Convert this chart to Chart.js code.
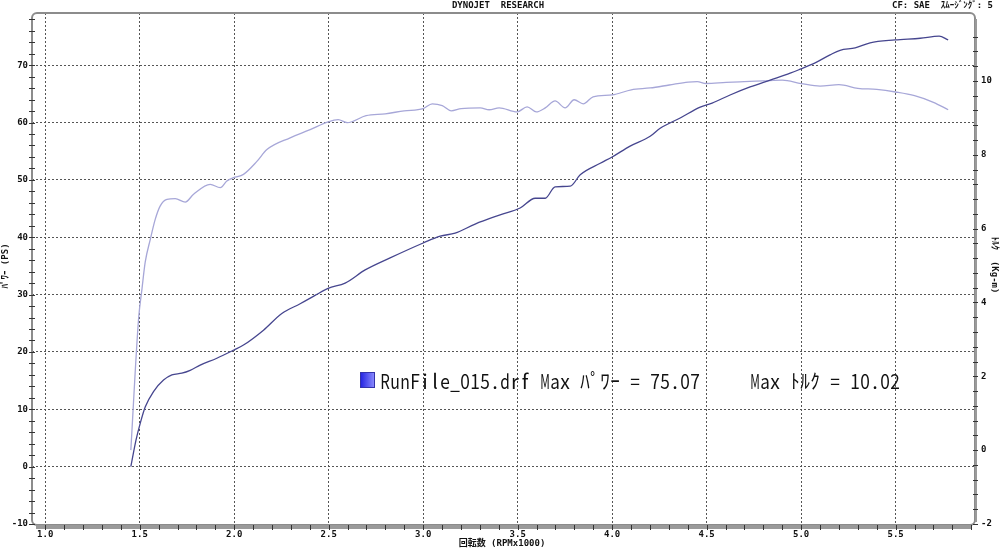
<!DOCTYPE html>
<html>
<head>
<meta charset="utf-8">
<script src="https://cdn.jsdelivr.net/npm/chart.js@4.4.1/dist/chart.umd.min.js"></script>
<style>
  html, body { margin: 0; padding: 0; background: #fff; }
  canvas { display: block; }
</style>
</head>
<body>
<canvas id="dynoChart" width="1000" height="551"></canvas>
<script>
// values
const rpmPower = [1.453, 1.48, 1.503, 1.529, 1.573, 1.626, 1.670, 1.723, 1.767, 1.820, 1.908, 1.996, 2.049, 2.155, 2.252, 2.349, 2.43, 2.497, 2.587, 2.693, 2.825, 3.0, 3.09, 3.169, 3.275, 3.407, 3.513, 3.593, 3.646, 3.698, 3.778, 3.831, 3.937, 4.0, 4.095, 4.201, 4.254, 4.36, 4.466, 4.529, 4.624, 4.73, 4.836, 4.942, 4.995, 5.074, 5.153, 5.206, 5.286, 5.365, 5.497, 5.63, 5.73, 5.778];
const powerPS = [0, 4.6, 7.6, 10.4, 13.1, 15.1, 16.0, 16.3, 16.8, 17.7, 18.9, 20.3, 21.2, 23.8, 26.7, 28.4, 29.9, 31.1, 32.0, 34.3, 36.4, 39.0, 40.2, 40.7, 42.3, 43.9, 45.1, 46.8, 46.8, 48.8, 48.9, 50.9, 52.9, 54.0, 55.9, 57.6, 59.0, 60.8, 62.7, 63.4, 64.8, 66.2, 67.4, 68.6, 69.3, 70.4, 71.8, 72.6, 73.0, 73.9, 74.4, 74.7, 75.07, 74.4];

const rpmTorque = [1.453, 1.494, 1.512, 1.529, 1.556, 1.582, 1.608, 1.644, 1.688, 1.741, 1.785, 1.873, 1.926, 1.961, 1.996, 2.049, 2.12, 2.173, 2.296, 2.402, 2.497, 2.55, 2.598, 2.698, 2.799, 2.899, 3.0, 3.048, 3.101, 3.148, 3.201, 3.302, 3.349, 3.402, 3.497, 3.55, 3.598, 3.646, 3.698, 3.751, 3.799, 3.847, 3.899, 4.0, 4.101, 4.201, 4.302, 4.402, 4.45, 4.497, 4.603, 4.698, 4.8, 4.9, 5.0, 5.1, 5.2, 5.3, 5.4, 5.5, 5.6, 5.7, 5.778];
const torqueKgm = [0, 3.56, 4.37, 5.09, 5.71, 6.25, 6.61, 6.79, 6.81, 6.72, 6.93, 7.20, 7.11, 7.29, 7.38, 7.47, 7.82, 8.14, 8.46, 8.68, 8.89, 8.95, 8.87, 9.06, 9.11, 9.19, 9.25, 9.38, 9.33, 9.19, 9.25, 9.27, 9.22, 9.27, 9.16, 9.30, 9.16, 9.27, 9.46, 9.27, 9.49, 9.38, 9.57, 9.62, 9.76, 9.81, 9.89, 9.97, 9.98, 9.93, 9.96, 9.98, 10.0, 10.02, 9.93, 9.86, 9.90, 9.80, 9.77, 9.70, 9.60, 9.42, 9.22];

const xTicks = [1.0, 1.5, 2.0, 2.5, 3.0, 3.5, 4.0, 4.5, 5.0, 5.5];
const xTickLabels = ['1.0', '1.5', '2.0', '2.5', '3.0', '3.5', '4.0', '4.5', '5.0', '5.5'];
const powerTicks = [-10, 0, 10, 20, 30, 40, 50, 60, 70];
const torqueTicks = [-2, 0, 2, 4, 6, 8, 10];

const legendText = 'RunFile_015.drf Max ﾊﾟﾜｰ = 75.07     Max ﾄﾙｸ = 10.02';

const monoFont = "'DejaVu Sans Mono', 'Noto Sans CJK JP', monospace";

// frame, minor ticks, titles and the run legend
const dynoDecor = {
  id: 'dynoDecor',
  afterDraw(chart) {
    const ctx = chart.ctx;
    const a = chart.chartArea;
    const x = chart.scales.x, y = chart.scales.y, y2 = chart.scales.y2;
    ctx.save();

    // frame with rounded corners
    ctx.strokeStyle = '#8c8c8c';
    ctx.lineWidth = 2;
    ctx.beginPath();
    ctx.roundRect(a.left, a.top, a.right - a.left, a.bottom - a.top + 1, 5);
    ctx.stroke();
    // heavier bottom / right edge
    ctx.strokeStyle = '#9a9a9a';
    ctx.lineWidth = 4;
    ctx.beginPath();
    ctx.moveTo(a.left + 4, a.bottom + 3);
    ctx.lineTo(a.right - 3, a.bottom + 3);
    ctx.stroke();
    ctx.lineWidth = 2;
    ctx.beginPath();
    ctx.moveTo(a.right + 1, a.top + 6);
    ctx.lineTo(a.right + 1, a.bottom - 2);
    ctx.stroke();

    // minor ticks
    ctx.strokeStyle = '#333';
    ctx.lineWidth = 1;
    ctx.beginPath();
    for (let v = -10; v <= 78; v += 2) {
      const py = Math.round(y.getPixelForValue(v)) + 0.5;
      ctx.moveTo(a.left - 3, py); ctx.lineTo(a.left + 3, py);
    }
    for (let v = 1.0; v <= 5.9; v += 0.1) {
      const px = Math.round(x.getPixelForValue(v)) + 0.5;
      ctx.moveTo(px, a.bottom + 1); ctx.lineTo(px, a.bottom + 6);
    }
    for (let v = -2; v <= 11.6; v += 0.4) {
      const py = Math.round(y2.getPixelForValue(v)) + 0.5;
      ctx.moveTo(a.right - 2, py); ctx.lineTo(a.right + 3, py);
    }
    ctx.stroke();

    // header texts
    ctx.fillStyle = '#111';
    ctx.font = 'bold 9px ' + monoFont;
    ctx.textBaseline = 'middle';
    ctx.textAlign = 'center';
    ctx.fillText('DYNOJET  RESEARCH', 498, 6);
    ctx.textAlign = 'right';
    ctx.fillText('CF: SAE  ｽﾑｰｼﾞﾝｸﾞ: 5', 993, 6);

    // axis titles
    ctx.textAlign = 'center';
    ctx.fillText('回転数 (RPMx1000)', 502, 544);
    ctx.save();
    ctx.translate(6, 266);
    ctx.rotate(-Math.PI / 2);
    ctx.fillText('ﾊﾟﾜｰ (PS)', 0, 0);
    ctx.restore();
    ctx.save();
    ctx.translate(994, 265);
    ctx.rotate(Math.PI / 2);
    ctx.fillText('ﾄﾙｸ  (Kg-m)', 0, 0);
    ctx.restore();

    // run legend: swatch + monospaced text in 10px cells
    const lx = 360, ly = 372;
    const g = ctx.createLinearGradient(lx, 0, lx + 15, 0);
    g.addColorStop(0, '#1f1fe0');
    g.addColorStop(1, '#8f8fff');
    ctx.fillStyle = g;
    ctx.fillRect(lx, ly, 15, 16);
    ctx.strokeStyle = '#3333aa';
    ctx.lineWidth = 1;
    ctx.strokeRect(lx + 0.5, ly + 0.5, 14, 15);

    ctx.fillStyle = '#111';
    ctx.font = "20px 'Noto Sans CJK JP', 'DejaVu Sans'";
    ctx.textBaseline = 'alphabetic';
    ctx.textAlign = 'center';
    const chars = Array.from(legendText);
    chars.forEach((c, i) => {
      if (c === ' ') return;
      const cx = 380 + i * 10 + 5;
      const w = ctx.measureText(c).width;
      const sx = w > 9.6 ? 9.6 / w : 1;
      ctx.save();
      ctx.translate(cx, 389);
      ctx.scale(sx, 1);
      ctx.fillText(c, 0, 0);
      ctx.restore();
    });

    ctx.restore();
  }
};

const tickFont = { family: monoFont, size: 9, weight: 'bold' };

new Chart(document.getElementById('dynoChart'), {
  type: 'line',
  data: {
    datasets: [
      {
        label: 'ﾊﾟﾜｰ',
        data: rpmPower.map((r, i) => ({ x: r, y: powerPS[i] })),
        yAxisID: 'y',
        borderColor: '#46468f',
        borderWidth: 1.3,
        pointRadius: 0,
        cubicInterpolationMode: 'monotone',
        fill: false
      },
      {
        label: 'ﾄﾙｸ',
        data: rpmTorque.map((r, i) => ({ x: r, y: torqueKgm[i] })),
        yAxisID: 'y2',
        borderColor: '#a7a7d8',
        borderWidth: 1.3,
        pointRadius: 0,
        cubicInterpolationMode: 'monotone',
        fill: false
      }
    ]
  },
  options: {
    responsive: false,
    animation: false,
    devicePixelRatio: 1,
    layout: { padding: { top: 13, left: 0, right: 0, bottom: 0 } },
    plugins: {
      legend: { display: false },
      tooltip: { enabled: false },
      title: { display: false }
    },
    scales: {
      x: {
        type: 'linear',
        min: 0.93,
        max: 5.92,
        afterBuildTicks: (s) => { s.ticks = xTicks.map(v => ({ value: v })); },
        afterFit: (s) => { s.height = 27; },
        ticks: {
          font: tickFont,
          color: '#111',
          padding: 5,
          maxRotation: 0,
          autoSkip: false,
          callback: (v, i) => xTickLabels[i]
        },
        grid: { color: '#555', lineWidth: 1, drawTicks: false, borderDash: [2, 2] },
        border: { display: false, dash: [2, 2] }
      },
      y: {
        position: 'left',
        min: -10,
        max: 79.1,
        afterBuildTicks: (s) => { s.ticks = powerTicks.map(v => ({ value: v })); },
        afterFit: (s) => { s.width = 32; },
        ticks: { font: tickFont, color: '#111', padding: 4 },
        grid: { color: '#555', lineWidth: 1, drawTicks: false, borderDash: [2, 2] },
        border: { display: false, dash: [2, 2] }
      },
      y2: {
        position: 'right',
        min: -2,
        max: 11.84,
        afterBuildTicks: (s) => { s.ticks = torqueTicks.map(v => ({ value: v })); },
        afterFit: (s) => { s.width = 25; },
        ticks: { font: tickFont, color: '#111', padding: 6 },
        grid: { drawOnChartArea: false, drawTicks: false },
        border: { display: false }
      }
    }
  },
  plugins: [dynoDecor]
});
</script>
</body>
</html>
